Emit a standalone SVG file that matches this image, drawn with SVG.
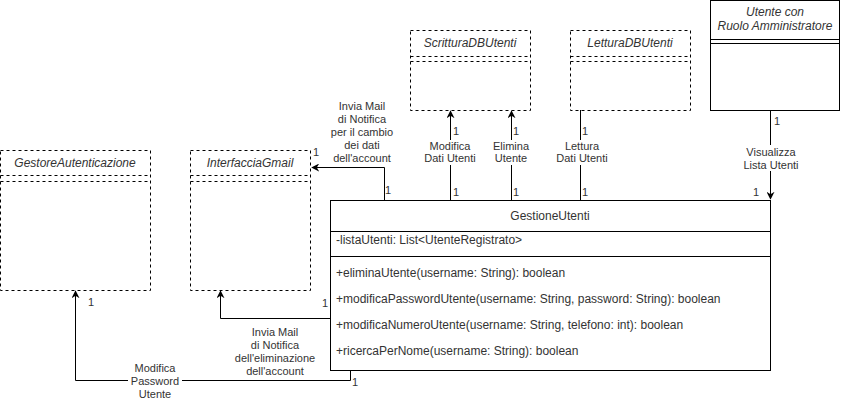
<svg xmlns="http://www.w3.org/2000/svg" width="841" height="401" viewBox="0 0 841 401">
<style>
text{font-family:"Liberation Sans",Arial,sans-serif;fill:#333;}
.t{font-size:12px;font-style:italic;text-anchor:middle;}
.m{font-size:12px;}
.lbl{font-size:11px;text-anchor:middle;}
.n{font-size:11px;}
.db{fill:#fff;stroke:#000;stroke-dasharray:3 3;}
.dl{fill:none;stroke:#000;stroke-dasharray:3 3;}
.sb{fill:#fff;stroke:#000;}
.sl{fill:none;stroke:#000;}
.e{fill:none;stroke:#000;stroke-width:1;}
.bg{fill:#fff;}
</style>
<defs>
<marker id="arr" viewBox="0 0 10 10" refX="9" refY="5" markerWidth="8" markerHeight="8" markerUnits="userSpaceOnUse" orient="auto">
<path d="M0,0 L10,5 L0,10 L3,5 Z" fill="#000"/>
</marker>
</defs>
<rect width="841" height="401" fill="#fff"/>
<g id="GestoreAutenticazione">
<rect class="db" x="0.5" y="150.5" width="150" height="140"/>
<line class="dl" x1="0.5" y1="175.5" x2="150.5" y2="175.5"/>
<line class="dl" x1="0.5" y1="181.5" x2="150.5" y2="181.5"/>
<text class="t" x="75" y="167">GestoreAutenticazione</text>
</g>
<g id="InterfacciaGmail">
<rect class="db" x="190.5" y="150.5" width="120" height="140"/>
<line class="dl" x1="190.5" y1="175.5" x2="310.5" y2="175.5"/>
<line class="dl" x1="190.5" y1="181.5" x2="310.5" y2="181.5"/>
<text class="t" x="250" y="167">InterfacciaGmail</text>
</g>
<g id="ScritturaDBUtenti">
<rect class="db" x="410.5" y="30.5" width="120" height="80"/>
<line class="dl" x1="410.5" y1="56.5" x2="530.5" y2="56.5"/>
<line class="dl" x1="410.5" y1="61.5" x2="530.5" y2="61.5"/>
<text class="t" x="470" y="47">ScritturaDBUtenti</text>
</g>
<g id="LetturaDBUtenti">
<rect class="db" x="570.5" y="30.5" width="120" height="80"/>
<line class="dl" x1="570.5" y1="56.5" x2="690.5" y2="56.5"/>
<line class="dl" x1="570.5" y1="61.5" x2="690.5" y2="61.5"/>
<text class="t" x="630" y="47">LetturaDBUtenti</text>
</g>
<g id="UtenteAmministratore">
<rect class="sb" x="710.5" y="0.5" width="129" height="110"/>
<line class="sl" x1="710.5" y1="39.5" x2="839.5" y2="39.5"/>
<line class="sl" x1="710.5" y1="43.5" x2="839.5" y2="43.5"/>
<text class="t" x="775" y="16">Utente con</text>
<text class="t" x="775" y="30">Ruolo Amministratore</text>
</g>
<g id="GestioneUtenti">
<rect class="sb" x="330.5" y="200.5" width="440" height="170"/>
<line class="sl" x1="330.5" y1="231.5" x2="770.5" y2="231.5"/>
<line class="sl" x1="330.5" y1="256.5" x2="770.5" y2="256.5"/>
<text class="m" x="550" y="220" text-anchor="middle">GestioneUtenti</text>
<text class="m" x="336" y="244">-listaUtenti: List&lt;UtenteRegistrato&gt;</text>
<text class="m" x="336" y="277">+eliminaUtente(username: String): boolean</text>
<text class="m" x="336" y="303">+modificaPasswordUtente(username: String, password: String): boolean</text>
<text class="m" x="336" y="329">+modificaNumeroUtente(username: String, telefono: int): boolean</text>
<text class="m" x="336" y="355">+ricercaPerNome(username: String): boolean</text>
</g>
<g id="connectors">
<path class="e" d="M384.5,200 V167.5 H312" marker-end="url(#arr)"/>
<text class="n" x="385" y="194">1</text>
<text class="n" x="313" y="156">1</text>
<text class="lbl" x="362" y="110">Invia Mail</text>
<text class="lbl" x="362" y="123">di Notifica</text>
<text class="lbl" x="362" y="136">per il cambio</text>
<text class="lbl" x="362" y="149">dei dati</text>
<text class="lbl" x="362" y="162">dell'account</text>
<path class="e" d="M450.5,200 V111" marker-end="url(#arr)"/>
<text class="n" x="453" y="135">1</text>
<text class="n" x="453" y="196">1</text>
<rect class="bg" x="420" y="140" width="60" height="25"/>
<text class="lbl" x="450" y="150">Modifica</text>
<text class="lbl" x="450" y="162">Dati Utenti</text>
<path class="e" d="M511.5,200 V111" marker-end="url(#arr)"/>
<text class="n" x="513" y="135">1</text>
<text class="n" x="513" y="196">1</text>
<rect class="bg" x="492" y="140" width="38" height="25"/>
<text class="lbl" x="511" y="150">Elimina</text>
<text class="lbl" x="511" y="162">Utente</text>
<path class="e" d="M580.5,200 V110"/>
<text class="n" x="582" y="135">1</text>
<text class="n" x="582" y="196">1</text>
<rect class="bg" x="552" y="140" width="60" height="25"/>
<text class="lbl" x="582" y="150">Lettura</text>
<text class="lbl" x="582" y="162">Dati Utenti</text>
<path class="e" d="M770.5,110 V199" marker-end="url(#arr)"/>
<text class="n" x="774" y="125">1</text>
<text class="n" x="753" y="196">1</text>
<rect class="bg" x="740" y="145" width="62" height="26"/>
<text class="lbl" x="771" y="156">Visualizza</text>
<text class="lbl" x="771" y="169">Lista Utenti</text>
<path class="e" d="M330,318.5 H220.5 V291" marker-end="url(#arr)"/>
<text class="n" x="322" y="307">1</text>
<text class="lbl" x="275" y="336">Invia Mail</text>
<text class="lbl" x="275" y="349">di Notifica</text>
<text class="lbl" x="275" y="362">dell'eliminazione</text>
<text class="lbl" x="275" y="375">dell'account</text>
<path class="e" d="M350.5,370 V380.5 H75.5 V291" marker-end="url(#arr)"/>
<text class="n" x="352" y="386">1</text>
<text class="n" x="88" y="306">1</text>
<rect class="bg" x="128" y="362" width="54" height="38"/>
<text class="lbl" x="155" y="372">Modifica</text>
<text class="lbl" x="155" y="385">Password</text>
<text class="lbl" x="155" y="398">Utente</text>
</g>
</svg>
